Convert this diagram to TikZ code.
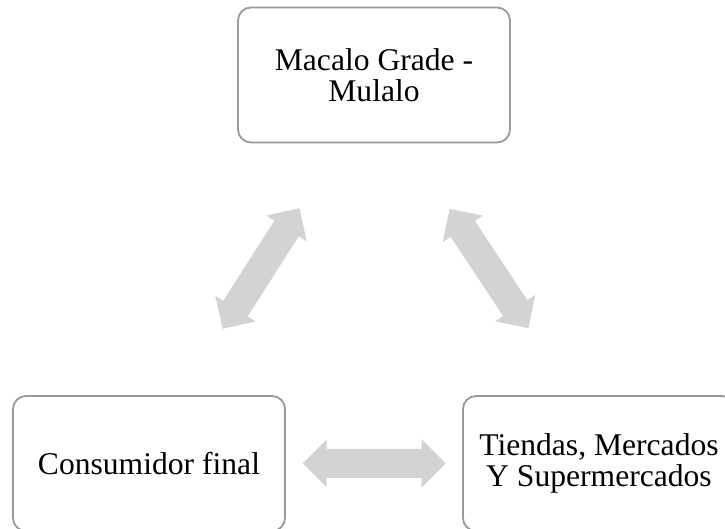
\documentclass[tikz,border=0pt]{standalone}
\usepackage{fontspec}
\setmainfont{Liberation Serif}
\begin{document}
\begin{tikzpicture}[x=1pt,y=-1pt,
  stage/.style={draw=boxline, line width=1.8pt, rounded corners=13pt,
    minimum width=272pt, minimum height=135pt, align=center,
    font=\fontsize{31.6}{31}\selectfont, inner sep=0pt},
  pics/dblarrow/.style={code={
    \fill[arrowfill] (-71.5,0) -- (-47.5,-24) -- (-47.5,-14.5) -- (47.5,-14.5)
      -- (47.5,-24) -- (71.5,0) -- (47.5,24) -- (47.5,14.5) -- (-47.5,14.5)
      -- (-47.5,24) -- cycle;}}]
\definecolor{boxline}{RGB}{153,153,153}
\definecolor{arrowfill}{RGB}{211,211,211}
\useasboundingbox (0,0) rectangle (725,529);
\clip (0,0) rectangle (725,529);

% the three stages of the chain
\node[stage] (macalo) at (374,75) {Macalo Grade -\\Mulalo};
\node[stage] (consumidor) at (149,463.5) {Consumidor final};
\node[stage] (tiendas) at (599,463.5) {Tiendas, Mercados\\Y Supermercados};

% two-way flows between the stages
\pic[rotate=57.5] (flowleft) at (261,268.5) {dblarrow};
\pic[rotate=-56.5] (flowright) at (489,268.5) {dblarrow};
\pic (flowbottom) at (374.2,463.3) {dblarrow};
\end{tikzpicture}
\end{document}
